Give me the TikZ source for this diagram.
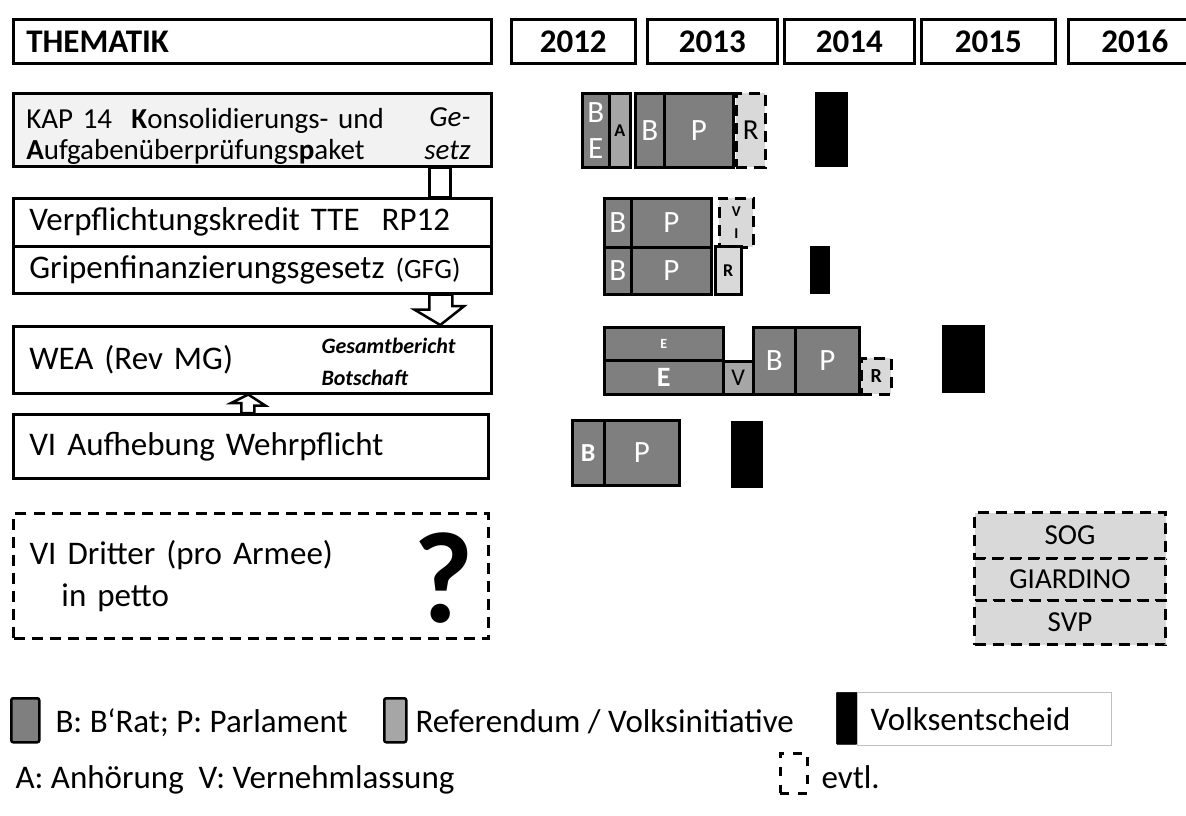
\documentclass[tikz,border=0pt]{standalone}
\usepackage{fontspec}
\setmainfont{Carlito}
\usepackage{xcolor}
\newcommand{\fsz}[1]{\fontsize{#1}{#1}\selectfont}

\begin{document}
\begin{tikzpicture}[x=1pt,y=-1pt,
  box/.style={draw,line width=2.5pt,anchor=north west,inner sep=0pt},
  thema/.style={box,align=left,inner xsep=16pt,font=\fsz{33}},
  bar/.style={draw,line width=2.5pt,anchor=north west,inner sep=0pt,align=center,font=\fsz{31}},
  dunkel/.style={fill=dunkelgrau,text=white},
  mittel/.style={fill=mittelgrau,text=black},
  hell/.style={fill=hellgrau,text=black},
  evtl/.style={dash pattern=on 11pt off 7pt},
  vs/.style={anchor=north west,fill=black,draw=black,line width=0.5pt,inner sep=0pt},
  legtext/.style={anchor=base west,font=\fsz{33}}]
\definecolor{dunkelgrau}{HTML}{7F7F7F}
\definecolor{mittelgrau}{HTML}{A6A6A6}
\definecolor{hellgrau}{HTML}{D9D9D9}
\definecolor{kapgrau}{HTML}{F2F2F2}
\useasboundingbox (0,0) rectangle (1186,815);

% Kopfzeile
\node[box,minimum width=478,minimum height=44,text width=452,inner xsep=13pt,align=left,
  text height=22pt,text depth=0pt,font=\bfseries\fsz{33}] (thematik) at (12,18) {THEMATIK};
\foreach \yr/\xa/\xb in {2012/510/634,2013/646/776,2014/783/913,2015/920/1054,2016/1067/1200}
  {\node[box,minimum width=\xb-\xa,minimum height=44,text height=22pt,text depth=0pt,
    font=\bfseries\fsz{33}] (y\yr) at (\xa,18) {\yr};}

% Thematik
\node[thema,fill=kapgrau,text width=452,inner xsep=13pt,minimum height=73,text height=35pt,text depth=38pt,
  font=\fontsize{29}{31}\selectfont]
  (kap) at (12,92) {KAP 14\ \ \textbf{K}onsolidierungs- und\\\textbf{A}ufgabenüberprüfungs\textbf{p}aket};
\node[align=right,anchor=east,font=\itshape\fontsize{29}{33}\selectfont] (kapgesetz) at (474,134) {Ge-\\setz};
\node[thema,text width=446,minimum height=48] (tte) at (12,197) {Verpflichtungskredit TTE\ \ RP12};
\node[thema,text width=446,minimum height=47] (gfg) at (12,245) {Gripenfinanzierungsgesetz {\fsz{28}(GFG)}};
\node[thema,text width=446,minimum height=67] (wea) at (12,325) {WEA (Rev MG)};
\node[anchor=west,align=left,font=\bfseries\itshape\fontsize{22}{32}\selectfont] (weabot) at (318,362)
  {Gesamtbericht\\Botschaft};
\node[thema,text width=443,minimum height=64] (viauf) at (12,413) {VI Aufhebung Wehrpflicht};
\node[thema,evtl,line width=3pt,text width=443,minimum height=125,font=\fontsize{33}{42}\selectfont]
  (vidritt) at (12,512) {VI Dritter (pro Armee)\\\hspace*{32pt}in petto};
\node[font=\bfseries\fsz{130}] (frage) at (444,578) {?};

% Verbindungen
\draw[line width=2.5pt,fill=white] ([xshift=177]kap.south) rectangle ([xshift=198]tte.north);
\draw[line width=2.5pt,fill=white] ([xshift=177]gfg.south) -- ++(0,15) -- ++(-15,0)
  -- ([xshift=188]wea.north) -- ++(24,-19) -- ++(-12,0) -- ([xshift=200]gfg.south) -- cycle;
\draw[line width=2.5pt,fill=white] ([xshift=-9.5]viauf.north) -- ++(0,-10) -- ++(-10,0)
  -- ([xshift=-4]wea.south) -- ++(17,11) -- ++(-11,0) -- ([xshift=3.5]viauf.north) -- cycle;

% Zeitachse KAP
\node[bar,dunkel,minimum width=27,minimum height=74,font=\fontsize{31}{36}\selectfont] (kapbe) at (581,92) {B\\E};
\node[bar,mittel,minimum width=21,minimum height=74,font=\bfseries\fsz{18}] (kapa) at (608,92) {A};
\node[bar,dunkel,minimum width=29,minimum height=74] (kapb) at (634,92) {B};
\node[bar,dunkel,minimum width=69,minimum height=74] (kapp) at (663,92) {P};
\node[bar,hell,evtl,minimum width=29,minimum height=74,font=\fsz{29}] (kapr) at (735,92) {R};
\node[vs,minimum width=32,minimum height=74] (kapvs) at (815,92) {};

% Zeitachse TTE / GFG
\node[bar,dunkel,minimum width=27,minimum height=49] (tteb) at (603,197) {B};
\node[bar,dunkel,minimum width=80,minimum height=49] (ttep) at (630,197) {P};
\node[bar,hell,evtl,minimum width=34,minimum height=49,font=\bfseries\fontsize{15}{22}\selectfont] (ttevi) at (718,197) {V\\I};
\node[bar,dunkel,minimum width=27,minimum height=47] (gfgb) at (603,246) {B};
\node[bar,dunkel,minimum width=80,minimum height=47] (gfgp) at (630,246) {P};
\node[bar,hell,minimum width=26,minimum height=48,font=\bfseries\fsz{18}] (gfgr) at (714,245) {R};
\node[vs,minimum width=19,minimum height=47] (gfgvs) at (810,246) {};

% Zeitachse WEA
\node[bar,dunkel,minimum width=119,minimum height=33,font=\bfseries\fsz{14}] (weae) at (603,326) {E};
\node[bar,dunkel,minimum width=119,minimum height=34,font=\bfseries\fsz{28}] (weaee) at (603,359) {E};
\node[bar,mittel,minimum width=30,minimum height=33,font=\fsz{24}] (weav) at (722,360) {V};
\node[bar,dunkel,minimum width=42,minimum height=67] (weab) at (752,326) {B};
\node[bar,dunkel,minimum width=64,minimum height=67] (weap) at (794,326) {P};
\node[bar,hell,evtl,minimum width=30,minimum height=36,font=\bfseries\fsz{20}] (wear) at (860,357) {R};
\node[vs,minimum width=42,minimum height=67] (weavs) at (942,325) {};

% Zeitachse VI
\node[bar,dunkel,minimum width=32,minimum height=65,font=\bfseries\fsz{26}] (vib) at (571,419) {B};
\node[bar,dunkel,minimum width=75,minimum height=65] (vip) at (603,419) {P};
\node[vs,minimum width=31,minimum height=66] (vivs) at (731,421) {};

% SOG, GIARDINO, SVP
\node[bar,hell,evtl,line width=3pt,minimum width=191,minimum height=46,font=\fsz{29}] (sog) at (973,511) {SOG};
\node[bar,hell,evtl,line width=3pt,minimum width=191,minimum height=42,font=\fsz{29}] (giardino) at (973,557) {GIARDINO};
\node[bar,hell,evtl,line width=3pt,minimum width=191,minimum height=44,font=\fsz{29}] (svp) at (973,599) {SVP};

% Legende
\node[bar,dunkel,rounded corners=2pt,minimum width=28,minimum height=44] (legbp) at (10,697) {};
\node[legtext] (legbptext) at (52,732) {B: B‘Rat; P: Parlament};
\node[bar,mittel,rounded corners=2pt,minimum width=22,minimum height=44] (legref) at (383,697) {};
\node[legtext] (legreftext) at (412,732) {Referendum / Volksinitiative};
\node[vs,rounded corners=1pt,minimum width=21,minimum height=52] (legvs) at (836,692) {};
\node[box,draw=black!25,line width=1pt,minimum width=254,minimum height=53,text width=228,inner xsep=13pt,
  align=left,font=\fsz{33}] (legvstext) at (857,692) {Volksentscheid};
\node[legtext] (legav) at (12,788) {A: Anhörung\ \ V: Vernehmlassung};
\node[box,dash pattern=on 9pt off 9pt,minimum width=27,minimum height=40] (legevtl) at (779,752) {};
\node[legtext] (legevtltext) at (818,788) {evtl.};
\end{tikzpicture}
\end{document}
